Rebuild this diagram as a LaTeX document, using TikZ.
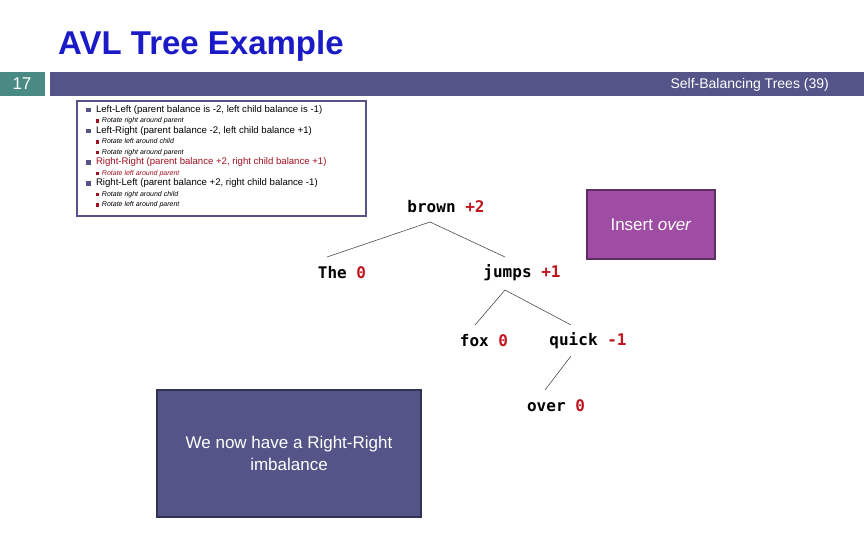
\documentclass[tikz,border=0pt]{standalone}
\usepackage{fontspec}
\setmainfont{Liberation Sans}
\setmonofont{DejaVu Sans Mono}
\usetikzlibrary{positioning}
\definecolor{barblue}{HTML}{545488}
\definecolor{numteal}{HTML}{4A8A84}
\definecolor{titleblue}{HTML}{1A1AC8}
\definecolor{balred}{HTML}{C0141E}
\definecolor{boxpurple}{HTML}{9E4CA4}
\definecolor{ruleRed}{HTML}{A01020}
\newcommand{\bal}[1]{\textcolor{balred}{#1}}
\newcommand{\sqmark}[2]{\textcolor{#1}{\rule{#2}{#2}}}
\newcommand{\mainitem}{\sqmark{barblue}{4.5pt}\ \ }
\newcommand{\ruleitem}{\quad\sqmark{ruleRed}{3.5pt}\ \fontsize{7}{8}\selectfont\itshape}
\begin{document}
\begin{tikzpicture}[x=1pt, y=-1pt,
    word/.style={font=\ttfamily\bfseries\fontsize{16}{19}\selectfont, inner sep=1pt},
    branch/.style={draw=black!70, line width=0.6pt},
    infobox/.style={line width=1.5pt, text=white}
]
\useasboundingbox (0,0) rectangle (864,540);

% Title and header bar
\node[anchor=base west, inner sep=0pt, text=titleblue, font=\bfseries\fontsize{33}{40}\selectfont] (title) at (58,55) {AVL Tree Example};
\fill[numteal] (0,72) rectangle (45,96);
\node[text=white, font=\fontsize{17}{19}\selectfont] (num) at (22,84) {17};
\fill[barblue] (50,72) rectangle (864,96);
\node[anchor=east, inner sep=0pt, text=white, font=\fontsize{14}{16}\selectfont] (section) at (829,85) {Self-Balancing Trees (39)};

% Rules box
\draw[barblue, line width=1.5pt, fill=white] (77,101) rectangle (366,216);
\node[anchor=north west, align=left, inner sep=0pt, font=\fontsize{9.6}{10.5}\selectfont] (rules) at (86,105) {%
  \mainitem Left-Left (parent balance is -2, left child balance is -1)\\
  {\ruleitem Rotate right around parent}\\
  \mainitem Left-Right (parent balance -2, left child balance +1)\\
  {\ruleitem Rotate left around child}\\
  {\ruleitem Rotate right around parent}\\
  \mainitem \textcolor{ruleRed}{Right-Right (parent balance +2, right child balance +1)}\\
  {\color{ruleRed}\ruleitem Rotate left around parent}\\
  \mainitem Right-Left (parent balance +2, right child balance -1)\\
  {\ruleitem Rotate right around child}\\
  {\ruleitem Rotate left around parent}};

% Tree nodes
\node[word] (brown) at (446,207) {brown \bal{+2}};
\node[word] (the) at (342,273) {The \bal{0}};
\node[word] (jumps) at (522,273) {jumps \bal{+1}};
\node[word] (fox) at (484,341) {fox \bal{0}};
\node[word] (quick) at (588,341) {quick \bal{-1}};
\node[word] (over) at (556,406) {over \bal{0}};

% Branches
\coordinate (bb) at (430,222);
\coordinate (jb) at (505,290);
\coordinate (qb) at (571,356);
\draw[branch] (bb) -- (327,257);
\draw[branch] (bb) -- (505,257);
\draw[branch] (jb) -- (475,325);
\draw[branch] (jb) -- (571,325);
\draw[branch] (qb) -- (545,390);

% Side boxes
\node[infobox, fill=boxpurple, draw=boxpurple!60!black, minimum width=128, minimum height=69, font=\fontsize{17}{19}\selectfont] (insert) at (651,224.5) {Insert \textit{over}};
\node[infobox, fill=barblue, draw=barblue!60!black, minimum width=264, minimum height=127] (note) at (289,453.5) {};
\node[anchor=north, align=center, text=white, font=\fontsize{17}{22}\selectfont] (notetext) at (289,433) {We now have a Right-Right\\imbalance};
\end{tikzpicture}
\end{document}
